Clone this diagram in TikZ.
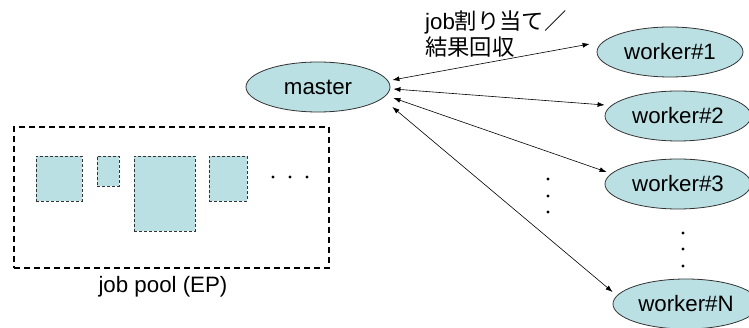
\documentclass[tikz,border=0pt]{standalone}
\usepackage{fontspec}
\setmainfont{Liberation Sans}
\newfontfamily\cjk{Noto Sans CJK JP}
\usetikzlibrary{shapes.geometric,arrows.meta}
\definecolor{cyanfill}{RGB}{186,224,227}
\tikzset{
  x=1pt,y=-1pt,
  every node/.style={font=\fontsize{22.3}{26}\selectfont, inner sep=0pt},
  worker/.style={ellipse, draw=black!80, line width=0.8pt, fill=cyanfill, minimum width=146pt, minimum height=50pt},
  jobbox/.style={rectangle, draw=black!80, densely dashed, line width=0.6pt, fill=cyanfill},
  poolbox/.style={rectangle, draw=black, line width=1.6pt, dash pattern=on 6pt off 4pt},
  link/.style={{Latex[length=7pt,width=5pt]}-{Latex[length=7pt,width=5pt]}, line width=0.6pt},
  dotmark/.style={circle, fill=black, minimum size=3.2pt, inner sep=0pt}
}
\begin{document}
\begin{tikzpicture}
\useasboundingbox (0,0) rectangle (749,328);
% pool
\node[poolbox, minimum width=315pt, minimum height=141pt] (pool) at (171.5,197.5) {};
\node[jobbox, minimum width=46pt, minimum height=45pt] (j1) at (59,178.5) {};
\node[jobbox, minimum width=22pt, minimum height=30pt] (j2) at (108,171) {};
\node[jobbox, minimum width=61pt, minimum height=75pt] (j3) at (164.5,193.5) {};
\node[jobbox, minimum width=38pt, minimum height=45pt] (j4) at (228,178.5) {};
\node[dotmark] (pd1) at (273,177) {};
\node[dotmark] (pd2) at (290,177) {};
\node[dotmark] (pd3) at (307,177) {};
\node (poollabel) at (163,287) {job pool (EP)};
% master and workers
\node[worker, minimum width=144pt, minimum height=50pt] (master) at (318,87) {master};
\node[worker] (w1) at (670,52) {worker\#1};
\node[worker] (w2) at (678,116) {worker\#2};
\node[worker] (w3) at (678,184) {worker\#3};
\node[worker] (wN) at (686,304) {worker\#N};
% label
\node[anchor=west, align=left] (lbl) at (425,34) {job{\cjk 割り当て／}\\{\cjk 結果回収}};
% links
\draw[link] ([shift={(2,-7)}]master.east) -- ([shift={(-7,-8)}]w1.west);
\draw[link] ([shift={(3,2)}]master.east) -- ([shift={(0,-11)}]w2.west);
\draw[link] ([shift={(3,11)}]master.east) -- ([shift={(2,-12)}]w3.west);
\draw[link] ([shift={(2,20)}]master.east) -- ([shift={(0,-12)}]wN.west);
% dots
\node[dotmark] (md1) at (548,179) {};
\node[dotmark] (md2) at (548,196) {};
\node[dotmark] (md3) at (548,212) {};
\node[dotmark] (wd1) at (683,233) {};
\node[dotmark] (wd2) at (683,249) {};
\node[dotmark] (wd3) at (683,266) {};
\end{tikzpicture}
\end{document}
